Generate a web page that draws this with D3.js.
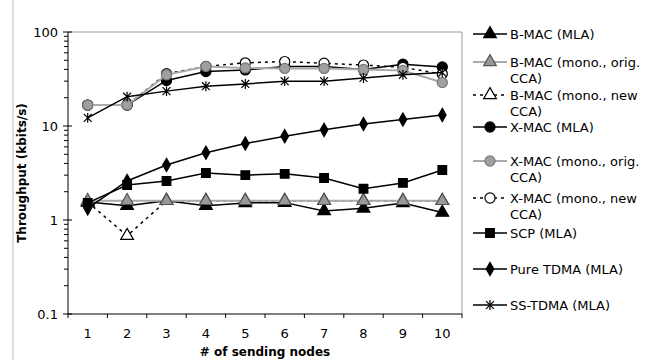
<!DOCTYPE html>
<html lang="en">
  <head>
    <meta charset="UTF-8" />
    <title>Throughput vs sending nodes</title>
    <script src="https://d3js.org/d3.v7.min.js"></script>
    <style>
      body {
        margin: 0;
        background: #fff;
        font-family: "DejaVu Sans", Verdana, sans-serif;
      }
      .tick-label {
        font-size: 13px;
        fill: #000;
      }
      .axis-title {
        font-size: 12px;
        font-weight: bold;
        fill: #000;
      }
      .legend text {
        font-size: 13px;
        fill: #000;
      }
    </style>
  </head>
  <body>
    <svg width="670" height="360"></svg>

    <script>
      // x categories
      const nodes = [1, 2, 3, 4, 5, 6, 7, 8, 9, 10];

      // series values (kbits/s)
      const bmacMLA = [1.55, 1.42, 1.6, 1.42, 1.52, 1.53, 1.25, 1.33, 1.52, 1.2];
      const bmacOrig = [1.6, 1.6, 1.6, 1.6, 1.6, 1.6, 1.6, 1.6, 1.6, 1.6];
      const bmacNew = [1.55, 0.68, 1.6, 1.6, 1.6, 1.6, 1.6, 1.6, 1.6, 1.6];
      const xmacMLA = [16.7, 16.7, 30.5, 38, 39.5, 43, 43, 40, 45.5, 42.5];
      const xmacOrig = [16.7, 16.7, 35, 43, 41.5, 41, 41, 40, 39, 29];
      const xmacNew = [16.7, 16.7, 36, 43, 47, 48.5, 46.5, 44.5, 42, 35.7];
      const scp = [1.52, 2.36, 2.6, 3.16, 3.0, 3.1, 2.8, 2.15, 2.48, 3.4];
      const pureTdma = [1.33, 2.6, 3.85, 5.2, 6.5, 7.8, 9.1, 10.5, 11.7, 13.1];
      const ssTdma = [12.2, 20.5, 23.5, 26.5, 28, 30, 30, 32.4, 35, 37];

      // y axis ticks
      const yTicks = [0.1, 1, 10, 100];
      const yTickLabels = ["0.1", "1", "10", "100"];

      // star: vertical stroke plus an X
      const starSymbol = {
        draw(ctx, size) {
          const r = Math.sqrt(size) * 0.55;
          const d = r * 0.8;
          ctx.moveTo(0, -r);
          ctx.lineTo(0, r);
          ctx.moveTo(-d, -d);
          ctx.lineTo(d, d);
          ctx.moveTo(-d, d);
          ctx.lineTo(d, -d);
        },
      };

      const series = [
        { name: ["B-MAC (MLA)"], values: bmacMLA, symbol: d3.symbolTriangle, size: 70, fill: "#000", stroke: "#000", line: "#000", dash: null, ly: 34, z: 0 },
        { name: ["B-MAC (mono., orig.", "CCA)"], values: bmacOrig, symbol: d3.symbolTriangle, size: 70, fill: "#999", stroke: "#555", line: "#aaa", dash: null, ly: 62, z: 2 },
        { name: ["B-MAC (mono., new", "CCA)"], values: bmacNew, symbol: d3.symbolTriangle, size: 70, fill: "#fff", stroke: "#000", line: "#000", dash: "3,4", ly: 95, z: 1 },
        { name: ["X-MAC (MLA)"], values: xmacMLA, symbol: d3.symbolCircle, size: 80, fill: "#000", stroke: "#000", line: "#000", dash: null, ly: 127, z: 3 },
        { name: ["X-MAC (mono., orig.", "CCA)"], values: xmacOrig, symbol: d3.symbolCircle, size: 80, fill: "#a0a0a0", stroke: "#777", line: "#aaa", dash: null, ly: 161, z: 5 },
        { name: ["X-MAC (mono., new", "CCA)"], values: xmacNew, symbol: d3.symbolCircle, size: 80, fill: "#fff", stroke: "#000", line: "#000", dash: "3,4", ly: 198, z: 4 },
        { name: ["SCP (MLA)"], values: scp, symbol: d3.symbolSquare, size: 75, fill: "#000", stroke: "#000", line: "#000", dash: null, ly: 233, z: 6 },
        { name: ["Pure TDMA (MLA)"], values: pureTdma, symbol: d3.symbolDiamond, size: 50, fill: "#000", stroke: "#000", line: "#000", dash: null, ly: 269, z: 7 },
        { name: ["SS-TDMA (MLA)"], values: ssTdma, symbol: starSymbol, size: 80, fill: "none", stroke: "#000", line: "#000", dash: null, ly: 305, z: 8 },
      ];

      const svg = d3.select("svg");
      const plot = { left: 68, right: 462, top: 32, bottom: 314 };

      const x = d3.scaleBand().domain(nodes).range([plot.left, plot.right]);
      const y = d3.scaleLog().domain([0.1, 100]).range([plot.bottom, plot.top]);
      const cx = (d) => x(d) + x.bandwidth() / 2;

      // chart area frame line on the left
      svg.append("line")
        .attr("x1", 13).attr("x2", 13).attr("y1", 0).attr("y2", 360)
        .attr("stroke", "#bbb");

      // plot border top + right
      svg.append("path")
        .attr("d", `M${plot.left},${plot.top}H${plot.right}V${plot.bottom}`)
        .attr("fill", "none")
        .attr("stroke", "#999");

      // y axis
      const yAxis = svg.append("g");
      yAxis.append("line")
        .attr("x1", plot.left).attr("x2", plot.left)
        .attr("y1", plot.top).attr("y2", plot.bottom)
        .attr("stroke", "#000");
      const minor = [];
      yTicks.slice(0, -1).forEach((t) => {
        for (let k = 2; k < 10; k++) minor.push(t * k);
      });
      yAxis.selectAll(".minor").data(minor).enter().append("line")
        .attr("x1", plot.left - 4).attr("x2", plot.left)
        .attr("y1", (d) => y(d)).attr("y2", (d) => y(d))
        .attr("stroke", "#000");
      yAxis.selectAll(".major").data(yTicks).enter().append("line")
        .attr("x1", plot.left - 5).attr("x2", plot.left + 4)
        .attr("y1", (d) => y(d)).attr("y2", (d) => y(d))
        .attr("stroke", "#000");
      yAxis.selectAll("text").data(yTicks).enter().append("text")
        .attr("class", "tick-label")
        .attr("x", plot.left - 10)
        .attr("y", (d) => y(d))
        .attr("dy", "0.35em")
        .attr("text-anchor", "end")
        .text((d, i) => yTickLabels[i]);

      // x axis
      const xAxis = svg.append("g");
      xAxis.append("line")
        .attr("x1", plot.left).attr("x2", plot.right)
        .attr("y1", plot.bottom).attr("y2", plot.bottom)
        .attr("stroke", "#000");
      const bounds = nodes.map((d) => x(d)).concat([plot.right]);
      xAxis.selectAll(".xt").data(bounds).enter().append("line")
        .attr("x1", (d) => d).attr("x2", (d) => d)
        .attr("y1", plot.bottom).attr("y2", plot.bottom + 4)
        .attr("stroke", "#000");
      xAxis.selectAll("text").data(nodes).enter().append("text")
        .attr("class", "tick-label")
        .attr("x", cx)
        .attr("y", plot.bottom + 24)
        .attr("text-anchor", "middle")
        .text((d) => d);

      // axis titles
      svg.append("text")
        .attr("class", "axis-title")
        .attr("x", (plot.left + plot.right) / 2)
        .attr("y", 356)
        .attr("text-anchor", "middle")
        .text("# of sending nodes");
      svg.append("text")
        .attr("class", "axis-title")
        .attr("transform", `translate(26,${(plot.top + plot.bottom) / 2}) rotate(-90)`)
        .attr("text-anchor", "middle")
        .text("Throughput (kbits/s)");

      // series, drawn so grey markers sit on top of the overlapping ones
      const line = d3.line().x((d, i) => cx(nodes[i])).y((d) => y(d));
      const ordered = series.slice().sort((a, b) => a.z - b.z);

      const seriesG = svg.append("g")
        .selectAll("g")
        .data(ordered)
        .enter()
        .append("g");

      seriesG.append("path")
        .attr("d", (s) => line(s.values))
        .attr("fill", "none")
        .attr("stroke", (s) => s.line)
        .attr("stroke-width", (s) => (s.line === "#aaa" ? 2 : 1.5))
        .attr("stroke-dasharray", (s) => s.dash);

      seriesG.each(function (s) {
        d3.select(this)
          .selectAll("path.mark")
          .data(s.values)
          .enter()
          .append("path")
          .attr("class", "mark")
          .attr("d", d3.symbol(s.symbol, s.size))
          .attr("transform", (d, i) => `translate(${cx(nodes[i])},${y(d)})`)
          .attr("fill", s.fill)
          .attr("stroke", s.stroke)
          .attr("stroke-width", 1.2);
      });

      // legend
      const legend = svg.append("g").attr("class", "legend");
      const item = legend.selectAll("g").data(series).enter().append("g")
        .attr("transform", (s) => `translate(0,${s.ly})`);
      item.append("line")
        .attr("x1", 473).attr("x2", 507)
        .attr("stroke", (s) => s.line)
        .attr("stroke-width", (s) => (s.line === "#aaa" ? 2 : 1.5))
        .attr("stroke-dasharray", (s) => s.dash);
      item.append("path")
        .attr("d", (s) => d3.symbol(s.symbol, s.size)())
        .attr("transform", "translate(490,0)")
        .attr("fill", (s) => s.fill)
        .attr("stroke", (s) => s.stroke)
        .attr("stroke-width", 1.2);
      item.each(function (s) {
        d3.select(this)
          .selectAll("text")
          .data(s.name)
          .enter()
          .append("text")
          .attr("x", 510)
          .attr("y", (d, i) => i * 16)
          .attr("dy", "0.35em")
          .text((d) => d);
      });
    </script>
  </body>
</html>
